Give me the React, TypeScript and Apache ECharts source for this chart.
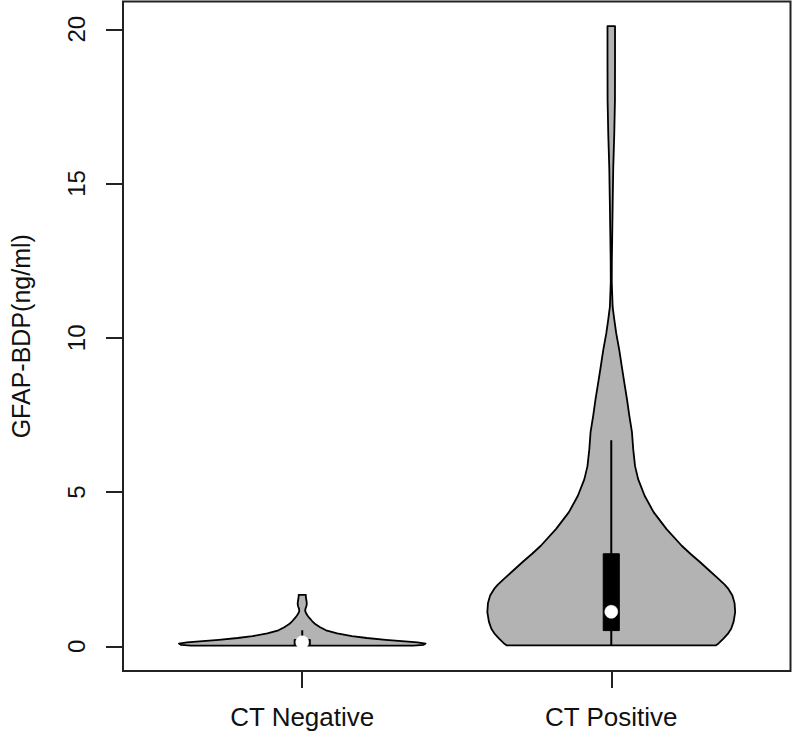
import React, { useEffect, useRef } from "react";
import * as echarts from "echarts";

const categories = ["CT Negative", "CT Positive"];
const yTicks = [0, 5, 10, 15, 20];

// Violin outlines: value (ng/ml) and half-width (x-axis units)
const negValues = [0.02, 0.05, 0.09, 0.13, 0.17, 0.21, 0.27, 0.33, 0.42, 0.52, 0.62, 0.72, 0.82, 0.92, 1.0, 1.08, 1.15, 1.22, 1.3, 1.38, 1.46, 1.55, 1.62, 1.67];
const negHalfWidths = [0.36, 0.393, 0.399, 0.373, 0.322, 0.27, 0.209, 0.161, 0.113, 0.077, 0.058, 0.042, 0.032, 0.023, 0.017, 0.012, 0.0095, 0.0105, 0.0135, 0.0148, 0.014, 0.0124, 0.0116, 0.0116];

const posValues = [0.03, 0.1, 0.25, 0.4, 0.57, 0.8, 1.11, 1.4, 1.65, 1.86, 2.0, 2.18, 2.45, 2.74, 3.0, 3.26, 3.8, 4.35, 4.88, 5.42, 5.84, 6.39, 6.94, 7.5, 8.0, 8.5, 9.07, 9.6, 10.15, 10.6, 11.0, 11.8, 12.5, 13.4, 14.5, 15.5, 16.6, 17.7, 19.0, 20.1];
const posHalfWidths = [0.338, 0.348, 0.363, 0.377, 0.388, 0.396, 0.401, 0.399, 0.392, 0.379, 0.367, 0.348, 0.318, 0.286, 0.256, 0.228, 0.179, 0.137, 0.108, 0.087, 0.077, 0.071, 0.067, 0.058, 0.051, 0.043, 0.034, 0.026, 0.016, 0.0097, 0.0045, 0.0016, 0.0019, 0.0032, 0.0048, 0.0064, 0.0097, 0.0119, 0.0122, 0.0122];

// Box-plot summaries per group
const whiskerLow = [0.02, 0.03];
const boxQ1 = [0.03, 0.51];
const medians = [0.13, 1.12];
const boxQ3 = [0.22, 3.0];
const whiskerHigh = [0.52, 6.68];

const violinValues = [negValues, posValues];
const violinHalfWidths = [negHalfWidths, posHalfWidths];

const FONT = "'Liberation Sans', Arial, Helvetica, sans-serif";

export default function App() {
  const ref = useRef<HTMLDivElement>(null);

  useEffect(() => {
    if (!ref.current) return;
    const chart = echarts.init(ref.current, null, { renderer: "svg" });
    const boxHalf = 0.026;

    const renderItem = (params: any, api: any) => {
      const center = api.value(0);
      const idx = api.value(1);
      const vals = violinValues[idx];
      const hws = violinHalfWidths[idx];
      const pts: number[][] = [];
      for (let j = 0; j < vals.length; j++) pts.push(api.coord([center - hws[j], vals[j]]));
      for (let j = vals.length - 1; j >= 0; j--) pts.push(api.coord([center + hws[j], vals[j]]));
      const wLo = api.coord([center, whiskerLow[idx]]);
      const wHi = api.coord([center, whiskerHigh[idx]]);
      const bTL = api.coord([center - boxHalf, boxQ3[idx]]);
      const bBR = api.coord([center + boxHalf, boxQ1[idx]]);
      const med = api.coord([center, medians[idx]]);
      return {
        type: "group",
        children: [
          {
            type: "polygon",
            shape: { points: pts },
            style: { fill: "#b3b3b3", stroke: "#000", lineWidth: 1.8, lineJoin: "round" },
          },
          {
            type: "line",
            shape: { x1: wLo[0], y1: wLo[1], x2: wHi[0], y2: wHi[1] },
            style: { stroke: "#000", lineWidth: 2 },
          },
          {
            type: "rect",
            shape: { x: bTL[0], y: bTL[1], width: bBR[0] - bTL[0], height: bBR[1] - bTL[1] },
            style: { fill: "#000", stroke: "#000", lineWidth: 1 },
          },
          {
            type: "circle",
            shape: { cx: med[0], cy: med[1], r: 6.5 },
            style: { fill: "#fff", stroke: "#fff", lineWidth: 0.5 },
          },
        ],
      };
    };

    chart.setOption({
      animation: false,
      backgroundColor: "#fff",
      textStyle: { fontFamily: FONT },
      grid: {
        left: 121,
        right: 1.5,
        top: 1.5,
        bottom: 64,
        show: true,
        borderColor: "#222",
        borderWidth: 2,
        backgroundColor: "transparent",
      },
      xAxis: {
        type: "value",
        min: 0.42,
        max: 2.58,
        splitLine: { show: false },
        axisLine: { show: false, onZero: false },
        axisTick: {
          show: true,
          customValues: [1, 2],
          length: 17,
          lineStyle: { color: "#222", width: 2 },
        },
        axisLabel: {
          show: true,
          customValues: [1, 2],
          formatter: (v: number) => categories[Math.round(v) - 1] ?? "",
          margin: 33,
          fontSize: 26,
          color: "#111",
          fontFamily: FONT,
        },
      },
      yAxis: {
        type: "value",
        min: -0.8,
        max: 20.9,
        name: "GFAP-BDP(ng/ml)",
        nameLocation: "middle",
        nameRotate: 90,
        nameGap: 90,
        nameTextStyle: { fontSize: 25, color: "#111", fontFamily: FONT },
        splitLine: { show: false },
        axisLine: { show: false, onZero: false },
        axisTick: {
          show: true,
          customValues: yTicks,
          length: 17,
          lineStyle: { color: "#222", width: 2 },
        },
        axisLabel: {
          show: true,
          customValues: yTicks,
          rotate: 90,
          margin: 35,
          fontSize: 24,
          color: "#111",
          fontFamily: FONT,
        },
      },
      series: [
        {
          type: "custom",
          renderItem,
          data: categories.map((_, i) => [i + 1, i]),
          clip: false,
        },
      ],
    });

    return () => chart.dispose();
  }, []);

  return (
    <div
      ref={ref}
      style={{ position: "absolute", left: 0, top: 0, width: 792, height: 735 }}
    />
  );
}
